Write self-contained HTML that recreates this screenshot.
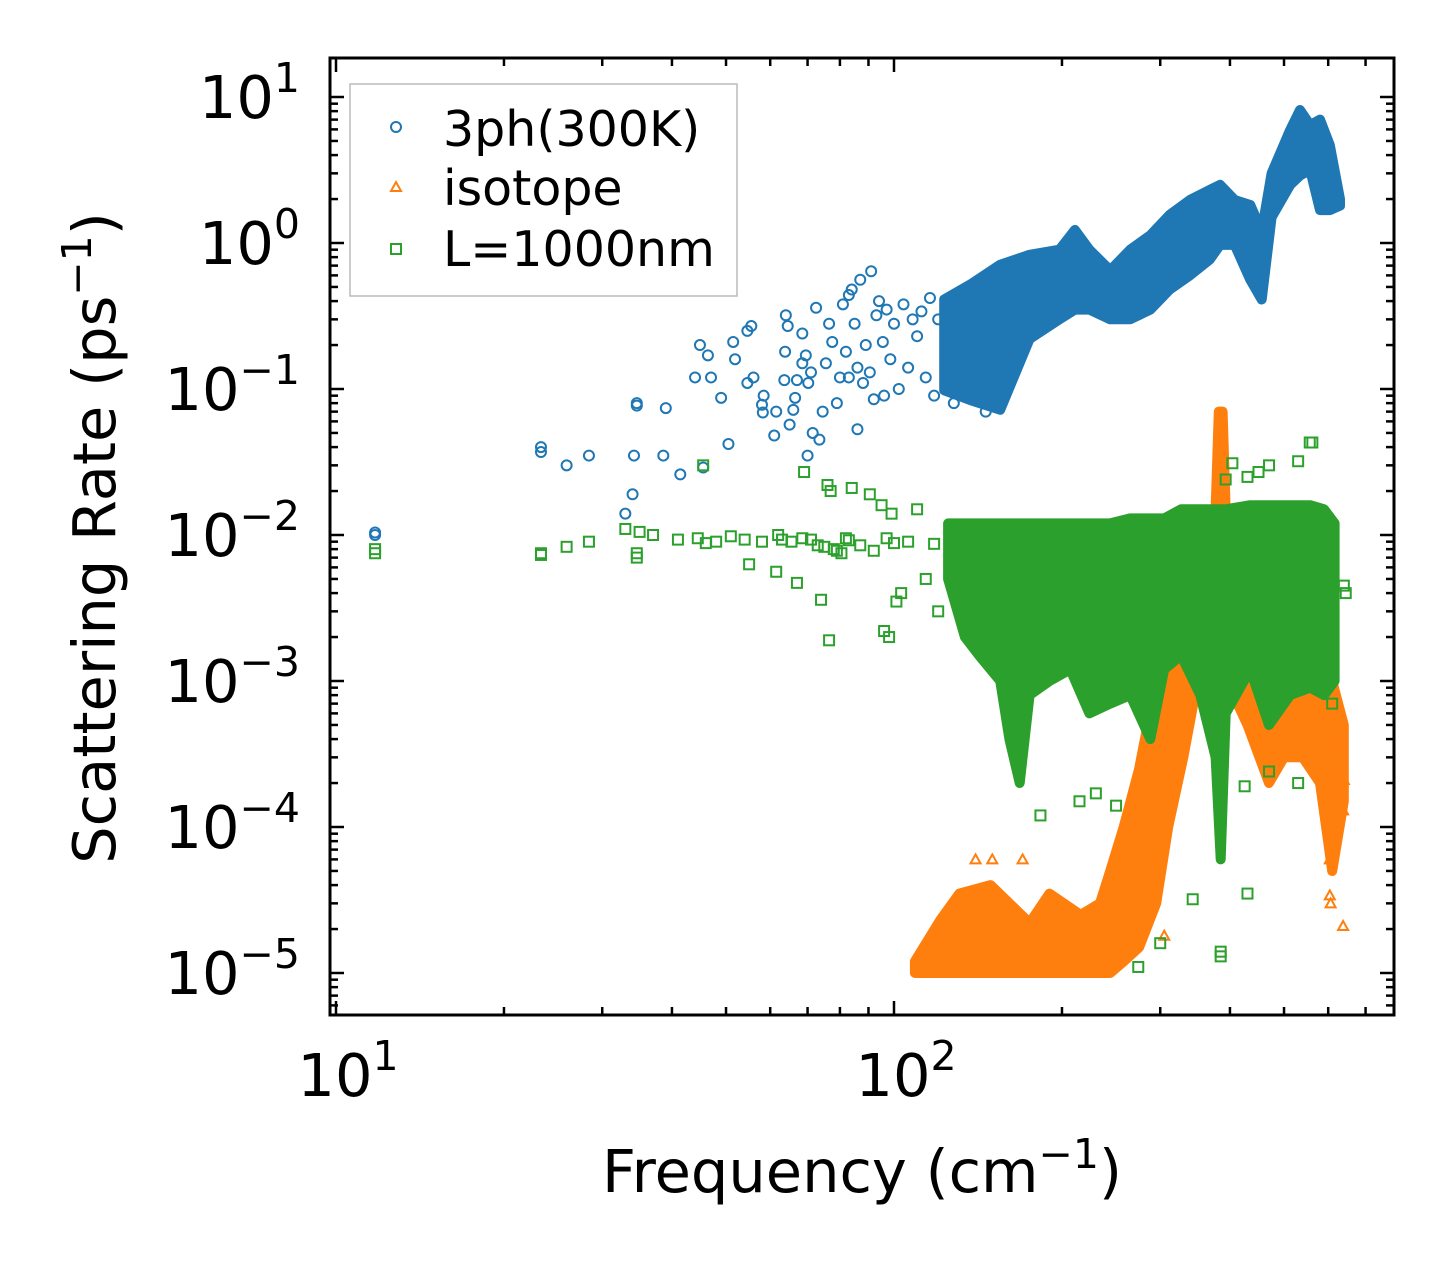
<!DOCTYPE html>
<html><head><meta charset="utf-8"><style>
body{margin:0;background:#fff}
svg{display:block;font-family:"DejaVu Sans","Liberation Sans",sans-serif}
</style></head><body>
<svg id="chart" width="1455" height="1265" viewBox="0 0 1455 1265" xmlns="http://www.w3.org/2000/svg">
<rect width="1455" height="1265" fill="#fff"/>
<defs><clipPath id="plotclip"><rect x="330" y="58" width="1064" height="957"/></clipPath></defs>
<g id="plot" clip-path="url(#plotclip)"></g>
<g id="axes"></g>
<text transform="translate(115,538) rotate(-90)" text-anchor="middle" font-size="59">Scattering Rate (ps<tspan dy="-24" font-size="41">−1</tspan><tspan dy="24">)</tspan></text>
<text x="862" y="1192" text-anchor="middle" font-size="59">Frequency (cm<tspan dy="-24" font-size="41">−1</tspan><tspan dy="24">)</tspan></text>
<g>
<rect x="350" y="84" width="387" height="212" fill="#fff" stroke="#bbb" stroke-width="1.5"/>
<circle cx="396" cy="127" r="5" fill="none" stroke="#1f77b4" stroke-width="2"/>
<text x="443" y="146" font-size="49">3ph(300K)</text>
<polygon points="396,182 401,191 391,191" fill="none" stroke="#ff7f0e" stroke-width="2"/>
<text x="443" y="205" font-size="49">isotope</text>
<rect x="391" y="244" width="10" height="10" fill="none" stroke="#2ca02c" stroke-width="2"/>
<text x="443" y="266" font-size="49">L=1000nm</text>
</g>
</svg>
<script>
// ---- data ----
const blueBand = [[123,0.098,0.41],[137,0.084,0.52],[155,0.072,0.71],[175,0.22,0.83],[198,0.30,0.90],[211,0.35,1.23],[224,0.35,0.90],[244,0.30,0.65],[265,0.30,0.90],[288,0.35,1.13],[312,0.48,1.56],[339,0.60,1.97],[368,0.77,2.31],[384,0.97,2.50],[408,0.97,1.97],[435,0.56,1.82],[456,0.41,1.2],[475,1.5,3.0],[513,2.5,5.95],[534,2.9,8.15],[557,3.16,6.43],[580,1.68,7.0],[604,1.68,4.69],[630,1.8,2.0]];
const bluePts = [[11.75,0.0104],[11.75,0.0100],[23.3,0.040],[23.3,0.037],[25.9,0.030],[28.4,0.035],[33,0.014],[34,0.019],[34.2,0.035],[34.6,0.080],[34.6,0.077],[39,0.074],[38.6,0.035],[41.4,0.026],[44,0.12],[44.9,0.20],[45.5,0.029],[46.4,0.17],[47,0.12],[49,0.087],[50.5,0.042],[51.5,0.21],[51.9,0.16],[54.6,0.25],[55.5,0.27],[54.6,0.11],[56,0.12],[58,0.078],[58.2,0.069],[58.4,0.09],[61,0.048],[61.5,0.070],[64,0.32],[63.8,0.18],[63.6,0.115],[64.5,0.27],[65,0.057],[66,0.072],[66.5,0.087],[67,0.115],[68.5,0.15],[68.5,0.24],[69.5,0.17],[70,0.035],[70.2,0.11],[71,0.13],[71.5,0.05],[72.5,0.36],[73.5,0.045],[74.5,0.07],[75.5,0.15],[76.5,0.28],[77.5,0.21],[79,0.08],[80,0.12],[81,0.38],[82,0.18],[83,0.12],[84,0.48],[85,0.28],[86,0.14],[87,0.56],[88,0.11],[89,0.20],[90.5,0.13],[91,0.64],[92,0.085],[93,0.32],[94,0.4],[95.5,0.21],[97,0.35],[98.5,0.16],[100,0.28],[102,0.10],[104,0.38],[106,0.14],[108,0.30],[110,0.23],[112,0.34],[114,0.12],[116,0.42],[118,0.09],[120,0.30],[96,0.09],[86,0.053],[83,0.44],[128,0.08],[132,0.46],[146,0.07],[160,0.48]];
const greenBand = [[125,0.005,0.012],[134,0.002,0.012],[142,0.0015,0.012],[155,0.001,0.012],[161,0.0004,0.012],[168,0.0002,0.012],[175,0.0008,0.012],[190,0.001,0.012],[207,0.0012,0.012],[224,0.0006,0.012],[244,0.0007,0.012],[265,0.0008,0.013],[288,0.0004,0.013],[305,0.0012,0.013],[327,0.0015,0.015],[354,0.0008,0.015],[377,0.0003,0.015],[385,0.00006,0.015],[393,0.0006,0.015],[435,0.0012,0.016],[470,0.0005,0.016],[513,0.0008,0.016],[557,0.0009,0.016],[590,0.0008,0.015],[616,0.001,0.012]];
const greenPts = [[11.75,0.008],[11.75,0.0075],[23.3,0.0075],[23.3,0.0073],[25.9,0.0083],[28.4,0.009],[33,0.011],[34.6,0.007],[34.6,0.0075],[35,0.0105],[37,0.01],[41,0.0093],[44.5,0.0095],[45.5,0.03],[46,0.0088],[48,0.009],[51,0.0098],[54,0.0093],[55,0.0063],[58,0.009],[61.5,0.0056],[62,0.01],[63,0.0093],[65.5,0.009],[67,0.0047],[68.5,0.0095],[69,0.027],[71,0.0093],[73,0.0085],[75,0.0083],[76,0.022],[77,0.02],[76.5,0.0019],[74,0.0036],[78,0.008],[79,0.0078],[80.5,0.0075],[82,0.0095],[83,0.0092],[84,0.021],[87,0.0085],[90.5,0.019],[92,0.0078],[95,0.016],[97,0.0095],[99,0.014],[100,0.0088],[96,0.0022],[98,0.002],[101,0.0035],[103,0.004],[106,0.009],[110,0.015],[114,0.005],[118,0.0087],[120,0.003],[183,0.00012],[215,0.00015],[230,0.00017],[250,0.00014],[274,0.000011],[300,0.000016],[343,0.000032],[385,0.000014],[385,0.000013],[430,0.000035],[425,0.00019],[470,0.00024],[530,0.0002],[610,0.0007],[393,0.024],[404,0.031],[430,0.025],[450,0.027],[470,0.03],[530,0.032],[556,0.043],[562,0.043],[640,0.0045],[645,0.004]];
const orangeBand = [[109,1e-5,1.2e-5],[121,1e-5,2.3e-5],[131,1e-5,3.5e-5],[149,1e-5,4e-5],[161,1e-5,3e-5],[175,1e-5,2.2e-5],[190,1e-5,3.5e-5],[216,1e-5,2.5e-5],[234,1e-5,3e-5],[244,1e-5,5e-5],[258,1.2e-5,1e-4],[275,1.5e-5,2.5e-4],[295,3e-5,1e-3],[310,1e-4,1.5e-3],[330,3e-4,3e-3],[350,1e-3,6e-3],[375,1e-3,8e-3],[382,1e-3,0.07],[388,1e-3,0.07],[395,1e-3,8e-3],[430,5e-4,3e-3],[470,2e-4,3e-3],[500,3e-4,2e-3],[540,3e-4,2e-3],[580,2e-4,1.5e-3],[610,5e-5,1e-3],[640,1.5e-4,5e-4]];
const orangePts = [[638,2.1e-5],[604,6e-5],[604,3.4e-5],[606,3e-5],[638,1.3e-4],[640,2.1e-4],[305,1.8e-5],[636,2.0e-4],[140,6e-5],[150,6e-5],[170,6e-5]];
const xTickVals = [10,100];
const xTickLabels = ["1","2"];
const yTickVals = [10,1,0.1,0.01,0.001,0.0001,0.00001];
const yTickLabels = ["1","0","−1","−2","−3","−4","−5"];

// ---- scales ----
const X = f => 336 + 558*(Math.log10(f)-1);
const Y = v => 97 - 146*(Math.log10(v)-1);
const NS = "http://www.w3.org/2000/svg";
const plot = document.getElementById('plot');
const axes = document.getElementById('axes');
function mk(tag, attrs, parent){const e=document.createElementNS(NS,tag);for(const k in attrs)e.setAttribute(k,attrs[k]);parent.appendChild(e);return e;}

function band(data, color, name){
  const top = data.map(d=>X(d[0]).toFixed(1)+','+Y(d[2]).toFixed(1));
  const bot = data.slice().reverse().map(d=>X(d[0]).toFixed(1)+','+Y(d[1]).toFixed(1));
  const p = mk('polygon',{points:top.concat(bot).join(' '),fill:color,stroke:color,'stroke-width':10,'stroke-linejoin':'round'},plot);
  
  
}
function pts(data, color, shape, name){
  const g = mk('g',{},plot);
  
  
  data.forEach(d=>{
    const x=X(d[0]), y=Y(d[1]); let e;
    if(shape==='c') e=mk('circle',{cx:x,cy:y,r:5,fill:'none',stroke:color,'stroke-width':2},g);
    else if(shape==='s') e=mk('rect',{x:x-5,y:y-5,width:10,height:10,fill:'none',stroke:color,'stroke-width':2},g);
    else e=mk('polygon',{points:`${x},${y-5} ${x+5},${y+4} ${x-5},${y+4}`,fill:'none',stroke:color,'stroke-width':2},g);
    
    
  });
}
band(blueBand,'#1f77b4','3ph-dense-band');
pts(bluePts,'#1f77b4','c','3ph-points');
band(orangeBand,'#ff7f0e','isotope-dense-band');
pts(orangePts,'#ff7f0e','t','isotope-points');
band(greenBand,'#2ca02c','boundary-dense-band');
pts(greenPts,'#2ca02c','s','boundary-points');

// ---- axes ----
const L=330,R=1394,T=58,B=1015;
const frame = mk('rect',{x:L,y:T,width:R-L,height:B-T,fill:'none',stroke:'#000','stroke-width':3},axes);


function tickLine(x1,y1,x2,y2){mk('line',{x1,y1,x2,y2,stroke:'#000','stroke-width':2.5},axes);}
for(let e=0;e<3;e++){for(let m=1;m<10;m++){
  const f=Math.pow(10,1+e)*m; const x=X(f); if(x<L||x>R) continue;
  const len = m===1?14:8;
  tickLine(x,B,x,B-len); tickLine(x,T,x,T+len);
}}
for(let e=-6;e<2;e++){for(let m=1;m<10;m++){
  const v=Math.pow(10,e)*m; const y=Y(v); if(y<T||y>B) continue;
  const len = m===1?14:8;
  tickLine(L,y,L+len,y); tickLine(R,y,R-len,y);
}}
xTickVals.forEach((v,i)=>{
  const t=mk('text',{x:X(v)+12,y:1096,'text-anchor':'middle','font-size':59},axes);
  
  
  const a=mk('tspan',{},t); a.textContent='10';
  const s=mk('tspan',{dy:-26,'font-size':41},t); s.textContent=xTickLabels[i];
});
yTickVals.forEach((v,i)=>{
  const t=mk('text',{x:300,y:Y(v)+21,'text-anchor':'end','font-size':59},axes);
  
  
  const a=mk('tspan',{},t); a.textContent='10';
  const s=mk('tspan',{dy:-26,'font-size':41},t); s.textContent=yTickLabels[i];
});
</script>
</body></html>
